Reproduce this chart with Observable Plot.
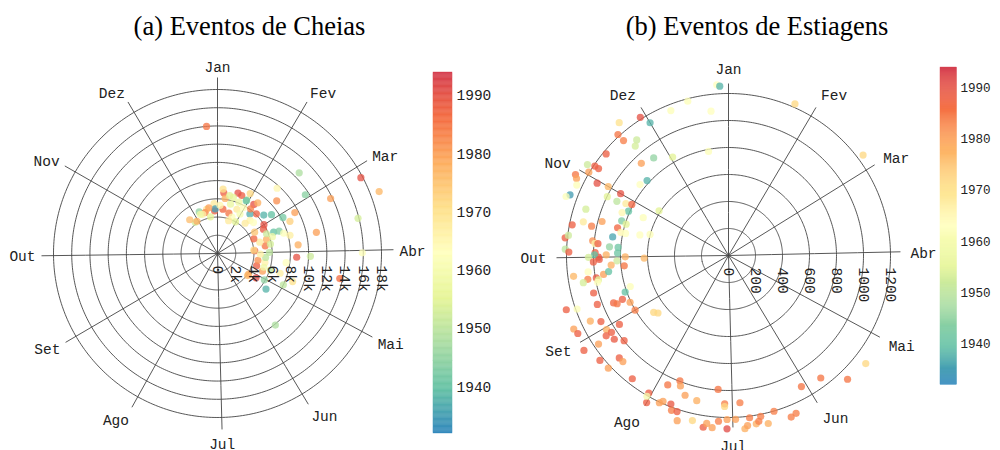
<!DOCTYPE html>
<html><head><meta charset="utf-8">
<script src="https://cdn.jsdelivr.net/npm/d3@7"></script>
<script src="https://cdn.jsdelivr.net/npm/@observablehq/plot@0.6"></script>
<style>
html,body{margin:0;padding:0;width:1000px;height:450px;overflow:hidden;background:#fff;}
.title{position:absolute;font-family:"Liberation Serif","Times New Roman",serif;font-size:26.5px;line-height:27px;color:#000;white-space:nowrap;transform:translateX(-50%);}
.abs{position:absolute;}
</style></head><body>
<div class="title" style="left:249.5px;top:13px">(a) Eventos de Cheias</div>
<div class="title" style="left:757px;top:13px">(b) Eventos de Estiagens</div>
<div id="p1" class="abs" style="left:-23px;top:53px"></div>
<div id="p2" class="abs" style="left:488px;top:55px"></div>
<div id="c1" class="abs" style="left:433px;top:72px"></div>
<div id="c2" class="abs" style="left:940px;top:67px"></div>
<script>
// ---- categorias (meses) ----
const meses = ["Jan","Fev","Mar","Abr","Mai","Jun","Jul","Ago","Set","Out","Nov","Dez"];
const mesesDia = [0,31,59,90,120,151,181,212,243,273,304,334];

// ---- (a) Cheias: dia do ano, vazão, ano ----
const cheiasDia = [
360,46,63,70,57,65,43,49,77,63,
67,62,79,85,94,93,91,99,109,112,
117,103,143,128,124,128,121,113,109,101,
102,96,87,82,75,76,69,61,63,59,
70,71,74,77,69,45,37,51,55,39,
29,29,23,19,40,37,6,5,8,15,
24,16,7,361,361,362,351,341,348,329,
325,332,344,354,16,23,30,45,50,43,
86,92,90,125,109,108,81,74,12,30,
22,19,30,3,354,341,29];
const cheiasVazao = [
14000,12600,17800,19000,11600,13800,9700,8700,15900,9600,
8700,8200,11100,8900,8700,10200,15900,7600,7200,8800,
8000,13700,10100,6600,5000,4100,5900,5300,4500,4500,
5300,5300,4100,5300,5600,4800,4300,4700,5700,6000,
6600,7200,7600,8200,5800,6100,6700,6600,7300,7100,
7500,6700,6900,7000,5600,6100,6700,7100,6100,5600,
5300,4600,4900,5500,4700,4900,5000,5000,4700,4200,
4800,4200,4600,5100,6400,6100,5800,5100,5200,4500,
4000,4700,5700,4100,6100,5300,5900,6300,6500,5000,
4300,3800,4000,5300,4100,4700,6600];
const cheiasAno = [
1985,1948,1990,1977,1944,1980,1965,1982,1953,1980,
1973,1942,1980,1978,1990,1952,1962,1963,1967,1970,
1950,1986,1948,1938,1991,1977,1945,1980,1988,1982,
1966,1950,1989,1985,1978,1968,1987,1975,1989,1990,
1940,1943,1962,1967,1952,1988,1990,1938,1940,1978,
1972,1950,1988,1990,1937,1984,1988,1970,1978,1957,
1968,1985,1987,1968,1988,1935,1970,1945,1983,1953,
1976,1978,1967,1980,1956,1958,1962,1966,1963,1968,
1972,1967,1950,1978,1950,1958,1953,1958,1955,1960,
1962,1968,1955,1965,1955,1958,1940];

// ---- (b) Estiagens: dia do ano, vazão, ano ----
const estiagensDia = [
361,362,350,343,358,24,54,332,334,325,
322,326,324,322,314,327,335,354,321,307,
308,308,305,302,301,299,295,294,303,304,
317,313,304,300,300,301,302,298,296,307,
298,292,285,287,286,289,288,292,291,280,
281,276,275,280,279,283,286,286,287,289,
278,278,275,275,273,274,273,274,273,272,
271,268,272,271,267,266,264,264,263,263,
265,266,256,254,258,253,251,251,250,248,
243,236,234,255,254,248,246,241,248,246,
242,240,240,237,234,239,240,234,230,230,
228,221,213,212,213,208,207,208,204,203,
200,195,204,203,201,200,195,191,190,188,
186,187,184,184,178,183,180,183,177,176,
175,173,172,171,169,166,161,159,153,145,
138,130,279,269,262];
const estiagensVazao = [
1267,1256,1182,1155,1077,1226,1244,1214,1142,1274,
1153,1093,1065,1214,1178,911,838,785,940,1243,
1191,1158,1205,1282,1262,1239,1257,1280,1111,1027,
820,840,921,998,919,852,810,810,850,612,
691,1111,1180,1104,1037,970,847,832,793,1217,
1195,1210,1183,1012,993,869,815,780,674,602,
884,820,822,988,963,993,1037,906,765,625,
827,776,958,1002,1047,1158,1057,993,980,1094,
936,896,763,812,1037,1037,850,921,899,807,
802,696,674,1267,1190,1133,1064,956,1269,1257,
1057,1037,1084,1049,998,1165,1281,1229,1220,1109,
1109,1158,1178,1247,1205,1205,1185,1059,995,1030,
1084,1101,1180,1222,1217,1281,1252,1286,1254,1281,
1230,995,1099,1119,1094,1215,1215,1284,1289,1267,
1212,1264,1249,1215,1279,1202,1284,1272,1111,1136,
1272,1294,971,872,990];
const estiagensAno = [
1963,1938,1962,1962,1963,1972,1972,1990,1938,1970,
1984,1952,1953,1985,1988,1945,1955,1962,1980,1952,
1988,1988,1980,1985,1980,1962,1935,1962,1990,1977,
1938,1963,1990,1955,1950,1968,1987,1940,1965,1955,
1962,1953,1988,1968,1984,1980,1987,1943,1955,1988,
1952,1950,1988,1982,1966,1936,1965,1963,1963,1962,
1945,1941,1941,1988,1990,1940,1953,1978,1978,1977,
1952,1985,1989,1988,1963,1977,1984,1989,1955,1953,
1980,1940,1962,1940,1988,1988,1988,1987,1985,1980,
1984,1972,1972,1988,1962,1978,1988,1988,1980,1988,
1978,1988,1988,1989,1988,1980,1988,1988,1980,1988,
1980,1988,1988,1988,1960,1980,1980,1985,1985,1980,
1980,1978,1989,1984,1988,1980,1972,1988,1980,1980,
1984,1985,1984,1972,1984,1980,1980,1991,1978,1980,
1984,1978,1984,1984,1978,1984,1984,1984,1985,1985,
1985,1972,1988,1978,1963];

// ---- eixos ----
const cheiasTicks = [0,2000,4000,6000,8000,10000,12000,14000,16000,18000];
const cheiasTickLabels = ["0","2k","4k","6k","8k","10k","12k","14k","16k","18k"];
const estiagensTicks = [0,200,400,600,800,1000,1200];
const estiagensTickLabels = ["0","200","400","600","800","1000","1200"];
const anoTicks = [1940,1950,1960,1970,1980,1990];
const anoDominio = [1932, 1994];
const paleta = ["#3288bd","#66c2a5","#abdda4","#e6f598","#ffffbf","#fee08b","#fdae61","#f46d43","#d53e4f"];

const colorScale = {type: "linear", domain: anoDominio, interpolate: d3.piecewise(d3.interpolateRgb, paleta)};
const fonte = {fontFamily: "'Liberation Mono', 'DejaVu Sans Mono', monospace", fontSize: "14.5px", color: "#222", background: "transparent", overflow: "visible"};

function polar({dia, vazao, ano, ticks, tickLabels, rmax, outer, spoke}) {
  const lon = d => 180 - d / 365 * 360;            // horário, Jan no topo
  const lat = v => 90 - v / rmax * outer * 90;     // raio
  const pts = dia.map((d, i) => ({dia: d, vazao: vazao[i], ano: ano[i]}));
  const labelMarks = meses.map((m, i) => {
    const th = mesesDia[i] / 365 * 2 * Math.PI;
    const s = Math.sin(th), c = Math.cos(th);
    return Plot.text([i], {
      x: j => lon(mesesDia[j]), y: () => 90 - 0.91 * 90, text: j => meses[j],
      fontSize: 14.5,
      textAnchor: Math.abs(s) < 0.2 ? "middle" : s > 0 ? "start" : "end",
      dy: c > 0 ? -6 * c + 1.5 : -8.5 * c
    });
  });
  return Plot.plot({
    width: 480, height: 400, margin: 0,
    projection: {type: "azimuthal-equidistant", rotate: [0, -90], inset: 0,
      domain: d3.geoCircle().center([0, 90]).radius(90).precision(1)()},
    color: colorScale,
    style: fonte,
    marks: [
      Plot.geo(ticks.filter(t => t > 0), {geometry: t => d3.geoCircle().center([0, 90]).radius(90 - lat(t)).precision(1)(), fill: "none", stroke: "#444", strokeWidth: 0.9}),
      Plot.link(mesesDia, {x1: d => lon(d), y1: () => 90, x2: d => lon(d), y2: () => 90 - spoke * 90, stroke: "#444", strokeWidth: 0.9}),
      Plot.dot(pts, {x: d => lon(d.dia), y: d => lat(d.vazao), fill: "ano", r: 3.6, fillOpacity: 0.78}),
      Plot.text(ticks, {x: () => 90, y: t => lat(t), text: (t, i) => tickLabels[i], rotate: 90, textAnchor: "start", dy: 12, fontSize: 14.5}),
      ...labelMarks
    ]
  });
}

function colorbar(height) {
  const passo = 0.2;
  const faixas = d3.range(anoDominio[0], anoDominio[1], passo);
  return Plot.plot({
    width: 19 + 50, height, marginTop: 0, marginBottom: 0, marginLeft: 0, marginRight: 50,
    y: {domain: anoDominio},
    color: colorScale,
    style: fonte,
    marks: [
      Plot.rect(faixas, {y1: d => d, y2: d => d + passo, fill: d => d + passo / 2, stroke: d => d + passo / 2, strokeWidth: 0.4}),
      Plot.axisY(anoTicks, {anchor: "right", tickSize: 0, tickPadding: 4, tickFormat: d3.format("d"), fill: "#222", fontSize: 14.5})
    ]
  });
}

document.getElementById("p1").append(polar({dia: cheiasDia, vazao: cheiasVazao, ano: cheiasAno, ticks: cheiasTicks, tickLabels: cheiasTickLabels, rmax: 18000, outer: 0.82, spoke: 0.88}));
document.getElementById("p2").append(polar({dia: estiagensDia, vazao: estiagensVazao, ano: estiagensAno, ticks: estiagensTicks, tickLabels: estiagensTickLabels, rmax: 1200, outer: 0.81, spoke: 0.86}));
document.getElementById("c1").append(colorbar(361));
document.getElementById("c2").append(colorbar(365));
</script>
</body></html>
